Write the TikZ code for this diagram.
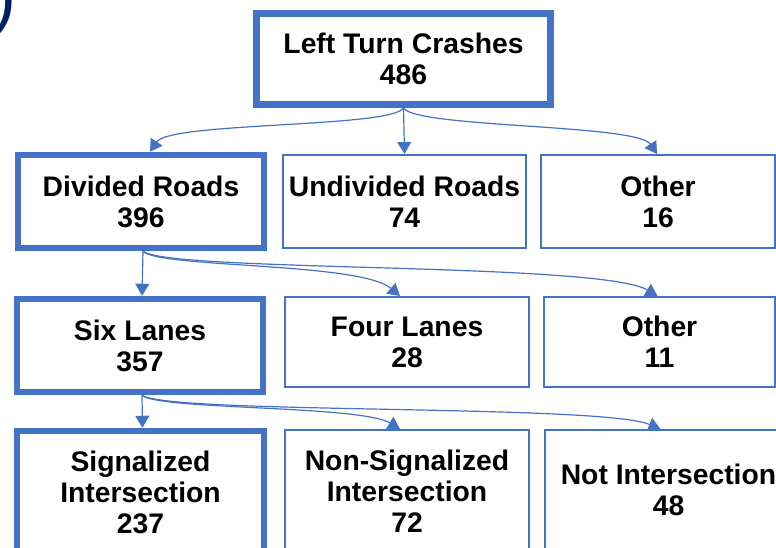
\documentclass[tikz,border=0pt]{standalone}
\usepackage{fontspec}
\setmainfont{Liberation Sans}
\usetikzlibrary{arrows.meta}
\definecolor{obl}{HTML}{4472C4}
\definecolor{navy}{HTML}{002060}
\tikzset{
  box/.style={draw=obl, fill=white, line width=2pt, align=center, inner sep=0pt,
    font=\fontsize{28.3}{31}\selectfont\bfseries, text=black},
  thick box/.style={box, line width=6.5pt},
  conn/.style={draw=obl, line width=1.2pt, -{Triangle[width=14pt,length=12pt]}}
}
\begin{document}
\begin{tikzpicture}[x=1pt,y=-1pt]
\useasboundingbox (0,0) rectangle (776,547);
\node[anchor=base west, inner sep=0pt, text=navy, font=\fontsize{72}{72}\selectfont] (paren) at (-8,20) {)};

\node[thick box, line width=7pt, minimum width=294pt, minimum height=91pt] (top) at (403.5,59) {Left Turn Crashes\\486};

\node[thick box, minimum width=246pt, minimum height=93pt] (div) at (141,201.5) {Divided Roads\\396};
\node[box, minimum width=243pt, minimum height=93pt] (undiv) at (404.5,201.5) {Undivided Roads\\74};
\node[box, minimum width=234pt, minimum height=93pt] (oth1) at (658,201.5) {Other\\16};

\node[thick box, minimum width=246pt, minimum height=93pt] (six) at (140,345.5) {Six Lanes\\357};
\node[box, minimum width=244pt, minimum height=90pt] (four) at (407,342) {Four Lanes\\28};
\node[box, minimum width=231pt, minimum height=90pt] (oth2) at (659.5,342) {Other\\11};

\node[thick box, minimum width=247pt, minimum height=122pt] (sig) at (140.5,492) {Signalized\\Intersection\\237};
\node[box, minimum width=244pt, minimum height=123pt] (nonsig) at (407,491.5) {Non-Signalized\\Intersection\\72};
\node[box, minimum width=247pt, minimum height=119pt] (notint) at (668.5,489.5) {Not Intersection\\48};

% level 1
\draw[conn] (top.south) .. controls +(-13,20) and +(20,-30) .. ([xshift=9pt]div.north);
\draw[conn] (top.south) -- (undiv.north);
\draw[conn] (top.south) .. controls +(13,20) and +(-20,-30) .. ([xshift=-1pt]oth1.north);
% level 2
\draw[conn] ([xshift=2pt]div.south) -- ([xshift=2pt]six.north);
\draw[conn] ([xshift=2pt]div.south) .. controls +(17,17) and +(-40,-34) .. ([xshift=-7pt]four.north);
\draw[conn] ([xshift=2pt]div.south) .. controls +(27,21) and +(-57,-34) .. ([xshift=-2pt]oth2.north);
% level 3
\draw[conn] ([xshift=2pt]six.south) -- ([xshift=2pt]sig.north);
\draw[conn] ([xshift=2pt]six.south) .. controls +(17,15) and +(-40,-24) .. ([xshift=-7pt]nonsig.north);
\draw[conn] ([xshift=2pt]six.south) .. controls +(27,19) and +(-60,-25) .. ([xshift=-8pt]notint.north);
\end{tikzpicture}
\end{document}
